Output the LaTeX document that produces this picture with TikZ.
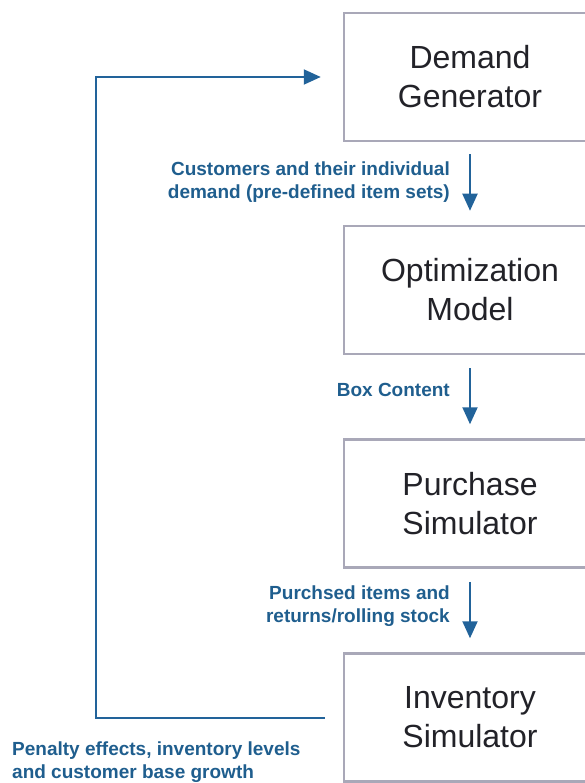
\documentclass[tikz,border=0pt]{standalone}
\usepackage{fontspec}
\setmainfont{Liberation Sans}
\usetikzlibrary{arrows.meta}
\definecolor{flowblue}{HTML}{22639A}
\definecolor{labelblue}{HTML}{1F5E8E}
\definecolor{boxgray}{HTML}{A9A8B8}
\definecolor{boxtext}{HTML}{222228}
\tikzset{
  x=1pt,y=1pt,
  stagebox/.style={draw=boxgray,line width=2.5pt,fill=white,minimum width=252pt,minimum height=128pt,
    align=center,text=boxtext,font=\fontsize{32}{39}\selectfont,inner sep=0pt},
  flow/.style={draw=flowblue,line width=2pt,-{Triangle[length=17pt,width=15pt]}},
  flowlabel/.style={text=labelblue,font=\fontsize{19}{23}\selectfont\bfseries,align=right,inner sep=0pt},
}
\begin{document}
\begin{tikzpicture}
\useasboundingbox (0,0) rectangle (585,-783);
\node[stagebox] (b1) at (470,-77) {Demand\\Generator};
\node[stagebox] (b2) at (470,-290) {Optimization\\Model};
\node[stagebox] (b3) at (470,-503.5) {Purchase\\Simulator};
\node[stagebox] (b4) at (470,-717.5) {Inventory\\Simulator};

\draw[flow] ([yshift=-12pt]b1.south) -- ([yshift=14pt]b2.north);
\draw[flow] ([yshift=-13pt]b2.south) -- ([yshift=14pt]b3.north);
\draw[flow] ([yshift=-13pt]b3.south) -- ([yshift=14pt]b4.north);

\node[flowlabel,anchor=east] (l1) at (450,-182.5) {Customers and their individual\\demand (pre-defined item sets)};
\node[flowlabel,anchor=east] (l2) at (450,-390) {Box Content};
\node[flowlabel,anchor=east] (l3) at (450,-606) {Purchsed items and\\returns/rolling stock};
\node[flowlabel,anchor=west,align=left] (l4) at (12,-762) {Penalty effects, inventory levels\\and customer base growth};

\coordinate (fbstart) at ([xshift=-18pt]b4.west);
\coordinate (fbcorner1) at (96,-717.5);
\coordinate (fbcorner2) at (96,-77);
\draw[flow] (fbstart) -- (fbcorner1) -- (fbcorner2) -- ([xshift=-22pt]b1.west);
\end{tikzpicture}
\end{document}
